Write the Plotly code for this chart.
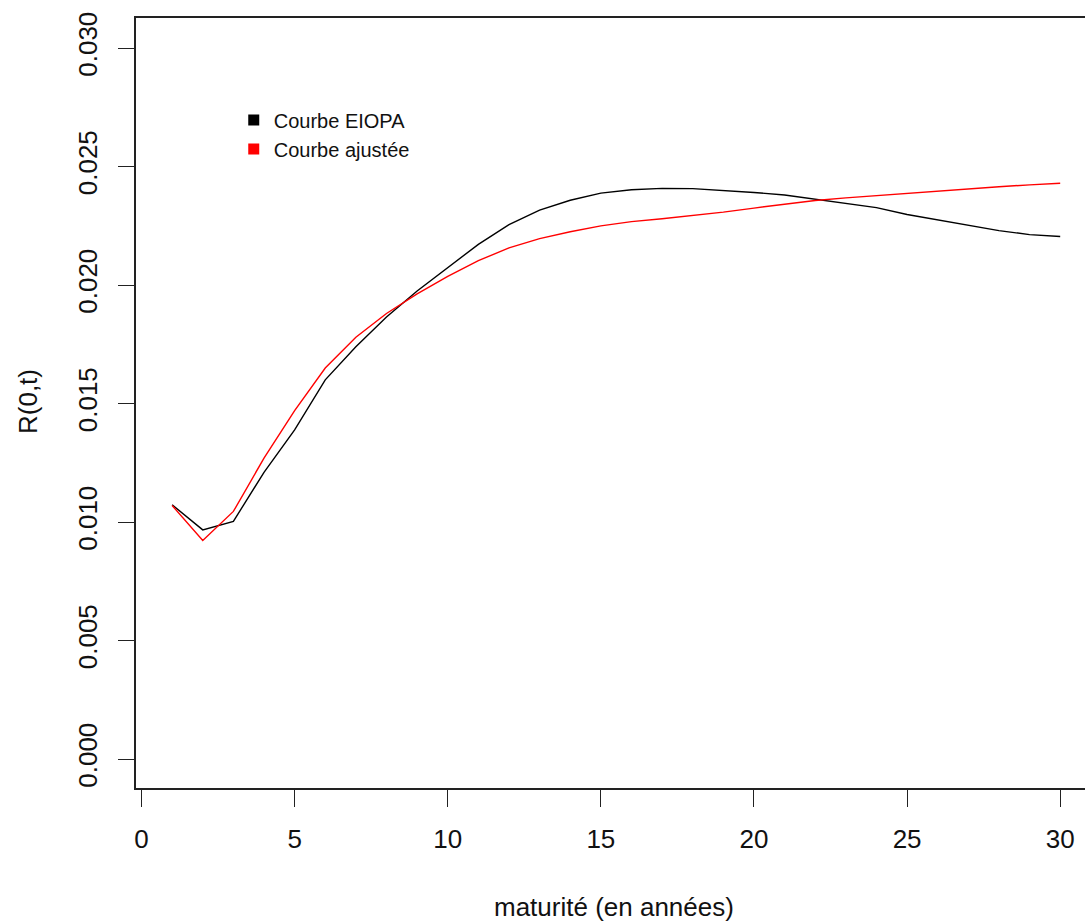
import plotly.graph_objects as go

maturites = list(range(1, 31))
eiopa = [0.01073, 0.00967, 0.01003, 0.01210, 0.01389, 0.01600, 0.01740, 0.01865, 0.01975, 0.02073,
         0.02172, 0.02255, 0.02316, 0.02358, 0.02388, 0.02402, 0.02408, 0.02407, 0.02400, 0.02391,
         0.02380, 0.02362, 0.02347, 0.02327, 0.02298, 0.02276, 0.02253, 0.02230, 0.02213, 0.02205]
ajustee = [0.01070, 0.00922, 0.01045, 0.01270, 0.01470, 0.01650, 0.01780, 0.01880, 0.01963, 0.02037,
           0.02103, 0.02157, 0.02196, 0.02225, 0.02250, 0.02268, 0.02280, 0.02293, 0.02308, 0.02325,
           0.02342, 0.02357, 0.02368, 0.02378, 0.02388, 0.02396, 0.02405, 0.02415, 0.02423, 0.02430]
x_ticks = [0, 5, 10, 15, 20, 25, 30]
y_ticks = [0.000, 0.005, 0.010, 0.015, 0.020, 0.025, 0.030]
y_tick_labels = ["0.000", "0.005", "0.010", "0.015", "0.020", "0.025", "0.030"]
series_names = ["Courbe EIOPA", "Courbe ajustée"]
series_colors = ["#000000", "#ff0000"]

FONT = "Liberation Sans, Arial, sans-serif"

fig = go.Figure()
for name, ys, col in zip(series_names, [eiopa, ajustee], series_colors):
    fig.add_trace(go.Scatter(x=maturites, y=ys, mode="lines", line=dict(color=col, width=1.4),
                             showlegend=False, hoverinfo="skip"))
for name, col in zip(series_names, series_colors):
    fig.add_trace(go.Scatter(x=[None], y=[None], mode="markers", name=name,
                             marker=dict(symbol="square", size=11, color=col)))

fig.update_layout(
    width=1085, height=922,
    margin=dict(l=136, r=0, t=18, b=134),
    plot_bgcolor="white", paper_bgcolor="white",
    font=dict(family=FONT, size=26, color="#000000"),
    showlegend=True,
    legend=dict(x=0.103, y=0.893, xanchor="left", yanchor="top",
                font=dict(size=20, family=FONT, color="#111"), bgcolor="rgba(0,0,0,0)",
                itemwidth=30, tracegroupgap=0),
    xaxis=dict(range=[-0.18, 30.81], tickvals=x_ticks, ticks="outside", ticklen=17,
               tickwidth=1.3, tickcolor="#222", showline=True, linecolor="#222", linewidth=1.5,
               mirror=True, showgrid=False, zeroline=False, ticklabelstandoff=10,
               tickfont=dict(size=26, color="#111")),
    yaxis=dict(range=[-0.00122, 0.03127], tickvals=y_ticks, ticktext=y_tick_labels,
               ticks="outside", ticklen=16, tickwidth=1.3, tickcolor="#222",
               showline=True, linecolor="#222", linewidth=1.5, mirror=False,
               showgrid=False, zeroline=False, tickangle=-90, ticklabelstandoff=11,
               tickfont=dict(size=26, color="#111")),
    annotations=[
        dict(text="maturité (en années)", xref="paper", yref="paper", x=(614 - 136) / 949,
             y=-(907 - 788) / 770, xanchor="center", yanchor="middle", showarrow=False,
             font=dict(size=26, family=FONT, color="#111")),
        dict(text="R(0,t)", xref="paper", yref="paper", x=-(136 - 28) / 949,
             y=(788 - 402) / 770, xanchor="center", yanchor="middle", showarrow=False,
             textangle=-90, font=dict(size=26, family=FONT, color="#111")),
    ],
)

fig.write_html("out.html")
